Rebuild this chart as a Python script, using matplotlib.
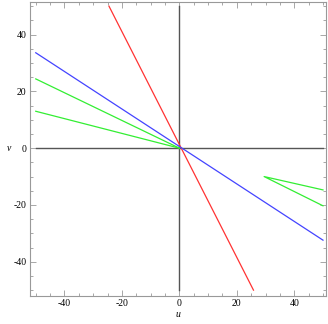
import numpy as np
import matplotlib.pyplot as plt
from matplotlib.ticker import MultipleLocator

# ===== data =====
red_u = [-24.5, 25.8]
red_v = [50, -50]
blue_u = [-50, 50]
blue_v = [33.6, -32.4]
green1_u = [-50, 0]
green1_v = [24.4, 0]
green2_u = [-50, 0]
green2_v = [13.0, 0]
wedge_u = [50, 29.5, 50]
wedge_v = [-14.7, -10.0, -20.3]

plt.rcParams["font.family"] = ["Liberation Serif", "DejaVu Serif"]
plt.rcParams["axes.unicode_minus"] = False

fig = plt.figure(figsize=(3.28, 3.24), dpi=100)
ax = fig.add_axes([0.0915, 0.087, 0.902, 0.907])

# axes through origin
ax.plot([-50, 50], [0, 0], color="#555555", lw=1.0)
ax.plot([0, 0], [-50, 50], color="#555555", lw=1.0)

ax.plot(red_u, red_v, color="#ff3333", lw=0.9)
ax.plot(blue_u, blue_v, color="#4444ff", lw=0.9)
ax.plot(green1_u, green1_v, color="#33ee33", lw=0.9)
ax.plot(green2_u, green2_v, color="#33ee33", lw=0.9)
ax.plot(wedge_u, wedge_v, color="#33ee33", lw=0.9)

ax.set_xlim(-52, 51)
ax.set_ylim(-52, 51.5)

ax.xaxis.set_major_locator(MultipleLocator(20))
ax.yaxis.set_major_locator(MultipleLocator(20))
ax.xaxis.set_minor_locator(MultipleLocator(5))
ax.yaxis.set_minor_locator(MultipleLocator(5))
ax.tick_params(which="both", direction="in", top=True, right=True,
               colors="#999999", labelcolor="black", labelsize=7)
ax.tick_params(which="major", length=4, width=0.6, pad=2.5)
ax.tick_params(which="minor", length=2, width=0.6)
for s in ax.spines.values():
    s.set_color("#999999")
    s.set_linewidth(0.8)

ax.set_xlabel("u", fontsize=7, style="italic", labelpad=1)
ax.set_ylabel("v", fontsize=7, style="italic", rotation=0, labelpad=3, va="center")

fig.savefig("out.png", dpi=100)
